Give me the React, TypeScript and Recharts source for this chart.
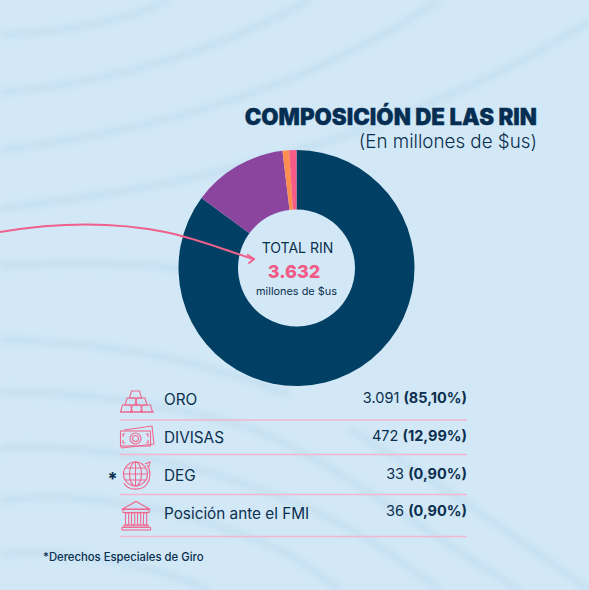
import React from "react";
import { PieChart, Pie, Cell } from "recharts";

const categories = ["ORO", "DIVISAS", "DEG", "Posición ante el FMI"];
const values = [3091, 472, 33, 36];
const valueLabels = ["3.091", "472", "33", "36"];
const percentLabels = ["(85,10%)", "(12,99%)", "(0,90%)", "(0,90%)"];
const sliceColors = ["#014064", "#8c459f", "#fd8e50", "#f65a86"];
const rowRuleY = [420, 454.5, 494.5, 536.5];
const rowLabelY = [404.5, 442.5, 480.5, 518.5];
const rowValueY = [403, 441, 478.5, 516];

const pieData = categories.map((name, i) => ({ name, value: values[i] }));

const NAVY = "#0b2f4f";
const PINK = "#f0678f";
const FONT = "Inter, 'Noto Sans', sans-serif";

const bandPaths = [
  "M0 35 C60 33 120 22 170 0",
  "M0 92 C110 84 220 50 310 0",
  "M0 150 C170 130 320 80 440 0",
  "M0 208 C230 185 430 120 589 22",
  "M0 265 C80 262 160 262 230 275",
  "M0 340 C90 342 180 352 290 395",
  "M0 392 C90 392 170 405 240 425 C320 450 420 530 520 590",
  "M0 448 C110 442 220 470 300 505 C360 530 400 560 440 590",
  "M0 500 C90 490 190 510 280 550 C300 560 320 575 340 590",
  "M0 555 C60 548 140 560 210 590",
  "M350 430 C420 470 520 540 589 590",
];

const goldBars = [
  [130, 391], [125.5, 398], [135.5, 398], [121, 405], [131, 405], [141, 405],
];
const bankColumns = [127, 133, 139, 145];

function GoldIcon() {
  return (
    <g fill="none" stroke={PINK} strokeWidth={1.1}>
      {goldBars.map(([x, y], i) => (
        <path key={i} d={`M${x + 1.5} ${y} h8 l2 7 h-12 Z`} />
      ))}
      <path d="M120 412 H154" />
    </g>
  );
}

function MoneyIcon() {
  return (
    <g fill="none" stroke={PINK} strokeWidth={1.1}>
      <path d="M124 430 L152 426 L154 444 L122 448 L120.5 446" />
      <rect x={120.5} y={431} width={30} height={15} />
      <circle cx={135.5} cy={438.5} r={5.5} />
      <circle cx={135.5} cy={438.5} r={3} />
      <path d="M125 434 h-2 v3 M125 443 h-2 v-3 M146 434 h2 v3 M146 443 h2 v-3" />
    </g>
  );
}

function GlobeIcon() {
  return (
    <g fill="none" stroke={PINK} strokeWidth={1.1}>
      <circle cx={135.5} cy={474} r={12} />
      <ellipse cx={135.5} cy={474} rx={6} ry={12} />
      <path d="M135.5 462 V486 M123.5 474 H147.5 M125 468 H146 M125 480 H146" />
      <path d="M124 483 C128 491 142 491 147 484 C151 478 151 470 147 465" />
      <path d="M145 464 L150 462 L149 467" />
    </g>
  );
}

function BankIcon() {
  return (
    <g fill="none" stroke={PINK} strokeWidth={1.1}>
      <path d="M122.5 509 L136 501.5 L149.5 509 Z" />
      <rect x={123} y={509.5} width={26} height={3} />
      {bankColumns.map((x) => (
        <rect key={x} x={x - 1.5} y={513} width={3.2} height={12} />
      ))}
      <rect x={124} y={525} width={24} height={2.2} />
      <rect x={122} y={527.3} width={28.5} height={2.7} />
    </g>
  );
}

export default function App() {
  return (
    <div style={{ position: "absolute", left: 0, top: 0, width: 589, height: 590, overflow: "hidden", background: "#d2e8f6" }}>
      <svg width={589} height={590} style={{ position: "absolute", left: 0, top: 0 }}>
        <defs>
          <filter id="soft" x="-10%" y="-10%" width="120%" height="120%">
            <feGaussianBlur stdDeviation="2.5" />
          </filter>
        </defs>
        <g fill="none" stroke="#c4e0f2" strokeWidth={9} opacity={0.7} filter="url(#soft)">
          {bandPaths.map((d, i) => (
            <path key={i} d={d} />
          ))}
        </g>
      </svg>
      <div style={{ position: "absolute", left: 0, top: 0 }}>
        <PieChart width={589} height={590} margin={{ top: 0, right: 0, bottom: 0, left: 0 }}>
          <Pie
            data={pieData}
            dataKey="value"
            nameKey="name"
            cx={296.5}
            cy={268}
            innerRadius={58.5}
            outerRadius={118}
            startAngle={90}
            endAngle={-270}
            stroke="none"
            isAnimationActive={false}
          >
            {pieData.map((d, i) => (
              <Cell key={d.name} fill={sliceColors[i]} />
            ))}
          </Pie>
        </PieChart>
      </div>
      <svg width={589} height={590} style={{ position: "absolute", left: 0, top: 0, fontFamily: FONT }}>
        <text x={537} y={124.5} textAnchor="end" fontSize={22.3} fontWeight={900} fill="#052e52" stroke="#052e52" strokeWidth={0.3}>COMPOSICIÓN DE LAS RIN</text>
        <text x={537} y={148} textAnchor="end" fontSize={18.8} fontWeight={300} fill={NAVY}>(En millones de $us)</text>

        <path d="M0 232 C60 222 115 222 165 232 C195 238 225 250 253 259" fill="none" stroke="#f0608a" strokeWidth={2} />
        <path d="M247 254.5 L254 259 L248.5 263.5" fill="none" stroke="#f0608a" strokeWidth={2} />

        <text x={297.5} y={253} textAnchor="middle" fontSize={14} fill={NAVY}>TOTAL RIN</text>
        <text x={294} y={277.5} textAnchor="middle" fontSize={18} fontWeight={800} fill="#f25a86">3.632</text>
        <text x={296.5} y={294.5} textAnchor="middle" fontSize={10.9} fill={NAVY}>millones de $us</text>

        <GoldIcon />
        <MoneyIcon />
        <GlobeIcon />
        <BankIcon />
        <text x={112.5} y={485} textAnchor="middle" fontSize={18} fontWeight={700} fill={NAVY}>*</text>

        {categories.map((c, i) => (
          <text key={c} x={164} y={rowLabelY[i]} fontSize={15.3} fontWeight={400} fill={NAVY}>{c}</text>
        ))}
        {categories.map((c, i) => (
          <text key={c} x={467} y={rowValueY[i]} textAnchor="end" fontSize={14.5} fill={NAVY}>
            {valueLabels[i]} <tspan fontWeight={700}>{percentLabels[i]}</tspan>
          </text>
        ))}
        {rowRuleY.map((y) => (
          <line key={y} x1={120} x2={467} y1={y} y2={y} stroke="#f3b6cf" strokeWidth={1.3} />
        ))}
        <text x={43} y={561} fontSize={11.3} fontWeight={500} fill={NAVY}>*Derechos Especiales de Giro</text>
      </svg>
    </div>
  );
}
